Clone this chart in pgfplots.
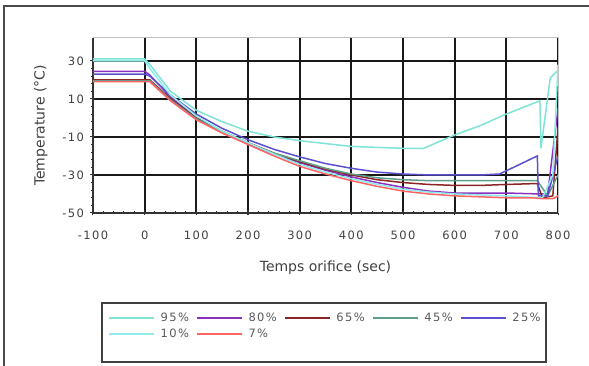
\documentclass[border=0pt]{standalone}
\usepackage{pgfplots}
\pgfplotsset{compat=1.18}
\usepackage{fontspec}
\setmainfont{DejaVu Sans}
\newfontfamily\tickfont{DejaVu Sans}[LetterSpace=12]
\definecolor{cA}{HTML}{7FE3D6}
\definecolor{cB}{HTML}{8A30C0}
\definecolor{cC}{HTML}{8B2424}
\definecolor{cD}{HTML}{5E9E8A}
\definecolor{cE}{HTML}{5A50D0}
\definecolor{cF}{HTML}{8EEDEB}
\definecolor{cG}{HTML}{FF6464}
\definecolor{txt}{HTML}{404040}
\begin{document}
\begin{tikzpicture}
\useasboundingbox (-93pt,-153pt) rectangle (496pt,213pt);
\draw[line width=2pt, black!70] (-89pt,-153pt) -- (-89pt,207pt) -- (496pt,207pt);
\begin{axis}[
  at={(0pt,0pt)}, anchor=south west,
  scale only axis, width=465pt, height=175pt,
  xmin=-100, xmax=800, ymin=-50, ymax=42,
  clip=false,
  xtick={-100,0,...,800}, ytick={-50,-30,...,30},
  minor x tick num=4, minor y tick num=4,
  axis lines*=left,
  axis line style={black!80, line width=1.5pt},
  tick align=center, major tick length=5pt, minor tick length=3pt,
  every tick/.style={black!80, line width=1pt},
  grid=major, major grid style={black!90, line width=1.7pt},
  /pgf/number format/assume math mode=true,
  ticklabel style={font=\tickfont\fontsize{11.5}{13}\selectfont, text=txt},
  xticklabel style={yshift=-12pt},
  yticklabel style={xshift=-3pt},
  xlabel={Temps orifice (sec)}, ylabel={Temperature (°C)},
  label style={font=\fontsize{14}{16}\selectfont, text=txt},
  xlabel style={yshift=-14pt},
  ylabel style={yshift=8pt},
  legend columns=5,
  legend image code/.code={\draw[#1, line width=1.6pt] (0pt,0pt) -- (45pt,0pt);},
  legend style={at={(axis description cs:0.033,-0.56)}, anchor=north west,
    draw=none, fill=none, inner sep=0pt, row sep=3pt,
    font=\tickfont\fontsize{11.5}{13}\selectfont, text=black!65,
    nodes={inner sep=1.5pt, anchor=west},
    /tikz/every even column/.append style={column sep=6pt},
    /tikz/every odd column/.append style={column sep=4pt}},
  every axis plot/.append style={line width=1.5pt},
]
\addplot[cA] coordinates {(-100,31) (0,31) (10,28) (50,14) (100,4) (150,-2) (200,-7) (250,-10) (300,-12) (400,-15) (500,-16) (540,-16) (600,-9) (650,-4) (700,2) (765,9) (767,-16) (785,21) (800,25)};
\addlegendentry{95\%}
\addplot[cB] coordinates {(-100,24.5) (0,24.5) (10,22.5) (50,11) (100,0) (150,-7.5) (200,-13.5) (250,-19) (300,-23.5) (350,-27.5) (400,-31) (450,-34) (500,-36.5) (550,-38.5) (600,-39.5) (700,-39.5) (765,-40) (780,-40) (800,5)};
\addlegendentry{80\%}
\addplot[cC] coordinates {(-100,20) (0,20) (10,20) (50,10) (100,0) (150,-7) (200,-13) (250,-18.5) (300,-23) (350,-27) (400,-30) (450,-32.5) (500,-34) (550,-35) (600,-35.5) (650,-35.5) (700,-35) (760,-34.5) (770,-42) (790,-41) (800,-5)};
\addlegendentry{65\%}
\addplot[cD] coordinates {(-100,19.5) (0,19.5) (10,19.5) (50,9.5) (100,-0.5) (150,-7.5) (200,-13.5) (250,-18.5) (300,-22.5) (350,-26.5) (400,-29.5) (450,-31.5) (500,-32.5) (550,-33) (600,-33) (700,-33) (760,-33) (780,-41) (800,-30)};
\addlegendentry{45\%}
\addplot[cE] coordinates {(-100,23) (0,23) (10,22) (50,12) (100,2) (150,-5.5) (200,-11.5) (250,-16.5) (300,-20.5) (350,-24) (400,-26.5) (450,-28.5) (500,-29.5) (550,-30) (600,-30) (650,-30) (687,-29.5) (760,-20) (762,-41) (780,-41) (800,-20)};
\addlegendentry{25\%}
\addplot[cF] coordinates {(-100,30) (0,30) (10,26) (50,12) (100,1) (150,-7) (200,-13) (250,-19) (300,-24.5) (350,-28.5) (400,-32) (450,-35) (500,-37.5) (550,-39) (600,-40) (700,-41) (770,-42) (790,-30) (800,28)};
\addlegendentry{10\%}
\addplot[cG] coordinates {(-100,19) (0,19) (10,19) (50,9) (100,-1) (150,-8) (200,-14) (250,-20) (300,-25.5) (350,-29.5) (400,-33) (450,-36) (500,-38.5) (550,-40) (600,-41) (650,-41.5) (700,-42) (750,-42) (770,-42.5) (790,-42.5) (800,-41)};
\addlegendentry{7\%}
\draw[black!25, line width=1pt] (rel axis cs:0,1) -- (rel axis cs:1,1) -- (rel axis cs:1,0);
\draw[black!75, line width=1.8pt] (rel axis cs:0.0194,-0.514) rectangle (rel axis cs:0.974,-0.851);
\end{axis}
\end{tikzpicture}
\end{document}
